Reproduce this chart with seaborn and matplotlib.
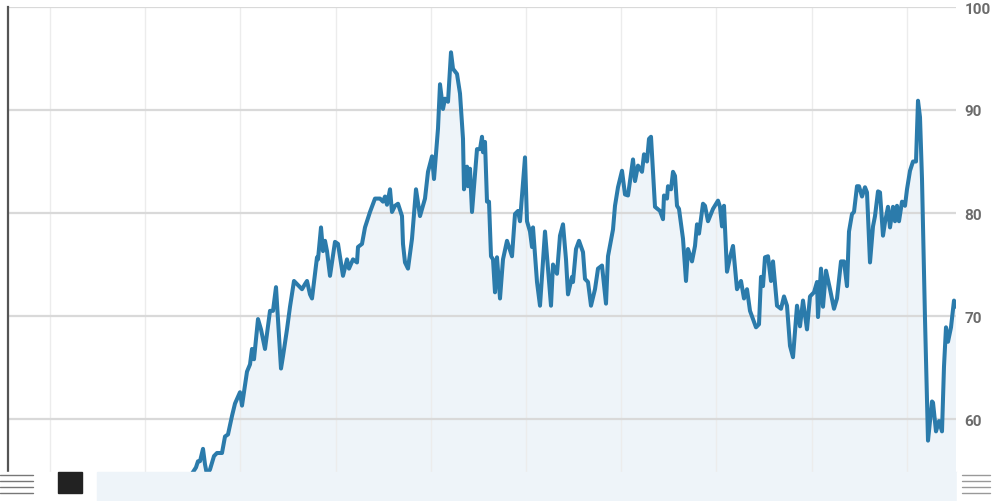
import numpy as np
import pandas as pd
import matplotlib
matplotlib.use("Agg")
import matplotlib.pyplot as plt
import seaborn as sns
from matplotlib.patches import Rectangle
from matplotlib.lines import Line2D

# trading day index (chart units) and price
day = [100, 150, 190, 196, 198, 200, 203, 205, 207, 210, 214, 217, 222, 225, 228,
       232, 235, 240, 242, 247, 250, 252, 254, 258, 261, 265, 270, 273, 276, 281,
       283, 287, 290, 294, 298, 302, 305, 307, 310, 312, 317, 318, 321, 323, 325,
       327, 330, 335, 338, 343, 347, 349, 353, 357, 358, 362, 365, 370, 375, 380,
       383, 385, 387, 390, 392, 395, 398, 402, 403, 405, 408, 412, 416, 420, 425,
       428, 432, 434, 438, 440, 443, 445, 448, 451, 453, 457, 460, 463, 464, 467,
       468, 470, 472, 477, 480, 482, 483, 485, 487, 489, 491, 493, 495, 497, 500,
       503, 507, 512, 515, 518, 520, 525, 527, 530, 532, 533, 537, 540, 545, 548,
       551, 553, 557, 560, 563, 566, 568, 572, 573, 576, 579, 583, 585, 588, 591,
       595, 598, 602, 606, 608, 613, 615, 618, 622, 625, 628, 633, 635, 638, 642,
       644, 647, 649, 651, 652, 655, 660, 663, 664, 667, 668, 671, 673, 675, 677,
       679, 683, 686, 688, 692, 695, 697, 699, 703, 705, 708, 713, 718, 720, 722,
       724, 727, 730, 733, 737, 741, 744, 747, 750, 753, 756, 759, 761, 763, 765,
       768, 771, 773, 775, 777, 781, 784, 787, 790, 793, 797, 800, 803, 807, 810,
       814, 817, 818, 821, 823, 826, 830, 834, 837, 841, 844, 847, 849, 852, 854,
       857, 859, 862, 865, 867, 870, 873, 875, 878, 880, 883, 885, 888, 890, 893,
       895, 897, 899, 902, 905, 907, 910, 913, 916, 918, 920, 922, 925, 928, 932,
       933, 936, 939, 942, 944, 946, 948, 951, 954, 956]

price = [53.2, 53.7, 54.4, 55.3, 55.9, 55.9, 57.1, 55.6, 54.6, 55.1, 56.4, 56.7, 56.7, 58.3, 58.5,
         60.3, 61.5, 62.6, 61.3, 64.6, 65.3, 66.8, 65.8, 69.7, 68.7, 66.8, 70.5, 70.5, 72.8, 64.9,
         66.1, 68.7, 70.9, 73.4, 73.0, 72.6, 73.1, 73.4, 72.1, 71.7, 75.7, 75.5, 78.6, 76.3, 77.3,
         76.3, 73.9, 77.2, 77.0, 73.9, 75.5, 74.6, 75.5, 75.2, 76.7, 77.0, 78.6, 80.1, 81.4, 81.4,
         81.1, 81.6, 80.8, 82.3, 80.1, 80.7, 80.9, 79.7, 77.0, 75.2, 74.6, 77.5, 82.3, 79.7, 81.4,
         84.0, 85.5, 83.3, 88.2, 92.5, 90.1, 91.1, 90.8, 95.6, 94.0, 93.5, 91.6, 87.2, 82.3, 84.5,
         82.6, 84.3, 80.1, 86.2, 86.2, 87.4, 85.9, 86.9, 81.1, 81.1, 75.8, 75.5, 72.3, 75.7, 71.7,
         75.5, 77.3, 75.8, 79.9, 80.2, 79.2, 85.4, 79.2, 78.2, 76.7, 78.6, 73.3, 71.0, 78.2, 74.6,
         71.0, 75.0, 74.1, 77.8, 78.9, 75.5, 72.1, 73.8, 73.3, 76.5, 77.3, 76.2, 73.6, 73.3, 71.0,
         72.6, 74.6, 74.9, 71.2, 75.8, 78.4, 80.7, 82.5, 84.1, 81.8, 81.7, 85.2, 83.1, 84.6, 84.0,
         85.7, 85.0, 87.2, 87.4, 85.7, 80.6, 80.2, 79.4, 81.7, 81.4, 82.6, 82.3, 84.0, 83.6, 80.7,
         80.4, 77.5, 73.4, 76.5, 75.3, 76.8, 78.9, 78.0, 80.9, 80.7, 79.2, 80.4, 81.2, 80.6, 78.7,
         80.7, 74.3, 75.7, 76.8, 72.6, 73.4, 71.7, 72.6, 70.5, 69.7, 68.9, 69.2, 73.8, 72.9, 75.7,
         75.8, 73.4, 75.3, 73.1, 71.0, 70.7, 71.9, 71.0, 67.1, 66.0, 71.0, 69.0, 71.5, 68.7, 71.9,
         72.3, 73.3, 69.9, 74.6, 70.9, 74.4, 72.6, 70.7, 71.7, 75.3, 75.3, 72.9, 78.2, 79.9, 80.1,
         82.6, 82.6, 81.6, 82.5, 82.0, 75.2, 78.7, 79.7, 82.1, 82.0, 77.8, 79.1, 80.6, 78.6, 80.6,
         79.2, 80.7, 79.2, 81.1, 80.7, 82.3, 84.1, 85.0, 85.0, 90.9, 89.3, 83.3, 69.7, 57.9, 61.7,
         61.6, 58.8, 59.8, 58.8, 65.1, 68.9, 67.5, 68.9, 71.5, 70.9]

y_ticks = [60, 70, 80, 90, 100]
grid_days = [50, 145.2, 240.4, 335.6, 430.8, 526.0, 621.2, 716.4, 811.6, 906.8]

df = pd.DataFrame({"day": day, "price": price})

line_color = "#2b7bab"
fill_color = "#eef4f9"

sns.set_style("white")
plt.rcParams['font.family'] = ['Roboto', 'DejaVu Sans']

fig = plt.figure(figsize=(10, 5.02), dpi=100)
ax = fig.add_axes([0.008, 0.0, 0.948, 494 / 502])

ax.fill_between(df["day"], df["price"], 40, color=fill_color, lw=0, zorder=0.2)
sns.lineplot(data=df, x="day", y="price", ax=ax, color=line_color, lw=2.9,
             zorder=3, sort=False)

ax.set_xlim(8, 956)
ax.set_ylim(100 - 494 / 10.3, 100)

ax.set_xticks(grid_days)
ax.set_xticklabels([])
ax.yaxis.tick_right()
ax.set_yticks(y_ticks)
ax.set_yticklabels([str(v) for v in y_ticks], fontsize=11, fontweight="bold", color="#6b6b6b")
ax.tick_params(axis="both", length=0)
ax.tick_params(axis="y", pad=6)
ax.set_xlabel("")
ax.set_ylabel("")

ax.grid(False)
ax.set_axisbelow(True)
ax.yaxis.grid(True, color="#d9d9d9", lw=1.6)
ax.xaxis.grid(True, color="#ececec", lw=1.0)

for s in ["top", "right", "bottom"]:
    ax.spines[s].set_visible(False)
ax.spines["left"].set_color("#555555")
ax.spines["left"].set_linewidth(1.6)

# navigator strip cut off at the bottom of the screenshot
fig.patches.append(Rectangle((0, 0), 97 / 1000, 29 / 502, transform=fig.transFigure,
                             color="white", zorder=10))
fig.patches.append(Rectangle((97 / 1000, 0), (957 - 97) / 1000, 29 / 502,
                             transform=fig.transFigure, color=fill_color, zorder=10))
fig.patches.append(Rectangle((957 / 1000, 0), 43 / 1000, 29 / 502,
                             transform=fig.transFigure, color="white", zorder=10))
fig.patches.append(Rectangle((58 / 1000, 8 / 502), 24 / 1000, 21 / 502,
                             transform=fig.transFigure, color="#222222", zorder=11))
for yy in [476, 482, 488, 494]:
    yf = 1 - yy / 502
    fig.lines.append(Line2D([0, 33 / 1000], [yf, yf], transform=fig.transFigure,
                            color="#777777", lw=1.0, zorder=12))
    fig.lines.append(Line2D([962 / 1000, 990 / 1000], [yf, yf], transform=fig.transFigure,
                            color="#999999", lw=1.0, zorder=12))

fig.savefig("out.png", dpi=100)
